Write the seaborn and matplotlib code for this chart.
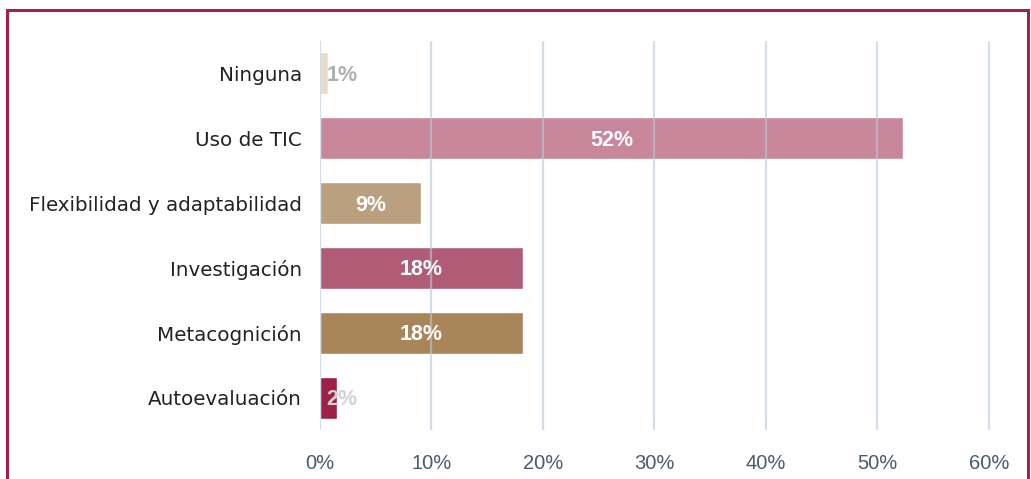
import matplotlib
matplotlib.use("Agg")
import matplotlib.pyplot as plt
import seaborn as sns
import pandas as pd
from matplotlib.lines import Line2D

categories = ["Ninguna", "Uso de TIC", "Flexibilidad y adaptabilidad",
              "Investigación", "Metacognición", "Autoevaluación"]
values = [0.7, 52.3, 9.1, 18.2, 18.2, 1.5]
bar_labels = ["1%", "52%", "9%", "18%", "18%", "2%"]
colors = ["#E8DCCB", "#C8879A", "#BBA07F", "#B05C76", "#A8865A", "#9E2049"]
label_colors = ["#AFAFAF", "white", "white", "white", "white", "#D2D2D2"]
xticks = [0, 10, 20, 30, 40, 50, 60]
xtick_labels = ["0%", "10%", "20%", "30%", "40%", "50%", "60%"]

sns.set_style("white")
plt.rcParams["font.family"] = ["DejaVu Sans"]

df = pd.DataFrame({"cat": categories, "val": values})

W, H = 1031, 479
fig = plt.figure(figsize=(W / 100, H / 100), dpi=100)
ax = fig.add_axes([320 / W, 1 - 430 / H, (1011 - 320) / W, (430 - 41) / H])

sns.barplot(data=df, x="val", y="cat", hue="cat", palette=colors, legend=False,
            orient="h", width=0.65, ax=ax, zorder=2, saturation=1)

ax.set_xlim(0, 62)
ax.set_ylim(5.5, -0.5)
ax.set_xticks(xticks)
ax.set_xticklabels(xtick_labels, fontsize=14.5, color="#4A5B70",
                   family=["Liberation Sans", "DejaVu Sans"])
ax.tick_params(axis="x", length=0, pad=17)
ax.tick_params(axis="y", length=0, pad=13, labelcolor="#222222")
for t in ax.get_yticklabels():
    t.set_fontsize(14.3)
    t.set_family(["DejaVu Sans"])
ax.set_xlabel("")
ax.set_ylabel("")
for s in ax.spines.values():
    s.set_visible(False)
ax.xaxis.grid(True, color="#B9C9D6", linewidth=1.6, alpha=0.6, zorder=3)
ax.set_axisbelow(False)
for gl in ax.get_xgridlines():
    gl.set_zorder(3)

for i, (v, lab, lc) in enumerate(zip(values, bar_labels, label_colors)):
    xpos = v / 2 if v > 5 else 2.0
    ax.text(xpos, i + 0.03, lab, ha="center", va="center", color=lc, fontsize=15.5,
            fontweight="bold", family=["Liberation Sans", "DejaVu Sans"], zorder=4)

border = "#A3214D"
lw = 2.2
fig.add_artist(Line2D([7 / W, 7 / W], [0, 1 - 10 / H], color=border, lw=lw,
                      transform=fig.transFigure))
fig.add_artist(Line2D([1028 / W, 1028 / W], [0, 1 - 10 / H], color=border, lw=lw,
                      transform=fig.transFigure))
fig.add_artist(Line2D([7 / W, 1028 / W], [1 - 10 / H, 1 - 10 / H], color=border, lw=lw,
                      transform=fig.transFigure, solid_capstyle="projecting"))

fig.savefig("out.png", dpi=100, facecolor="white")
